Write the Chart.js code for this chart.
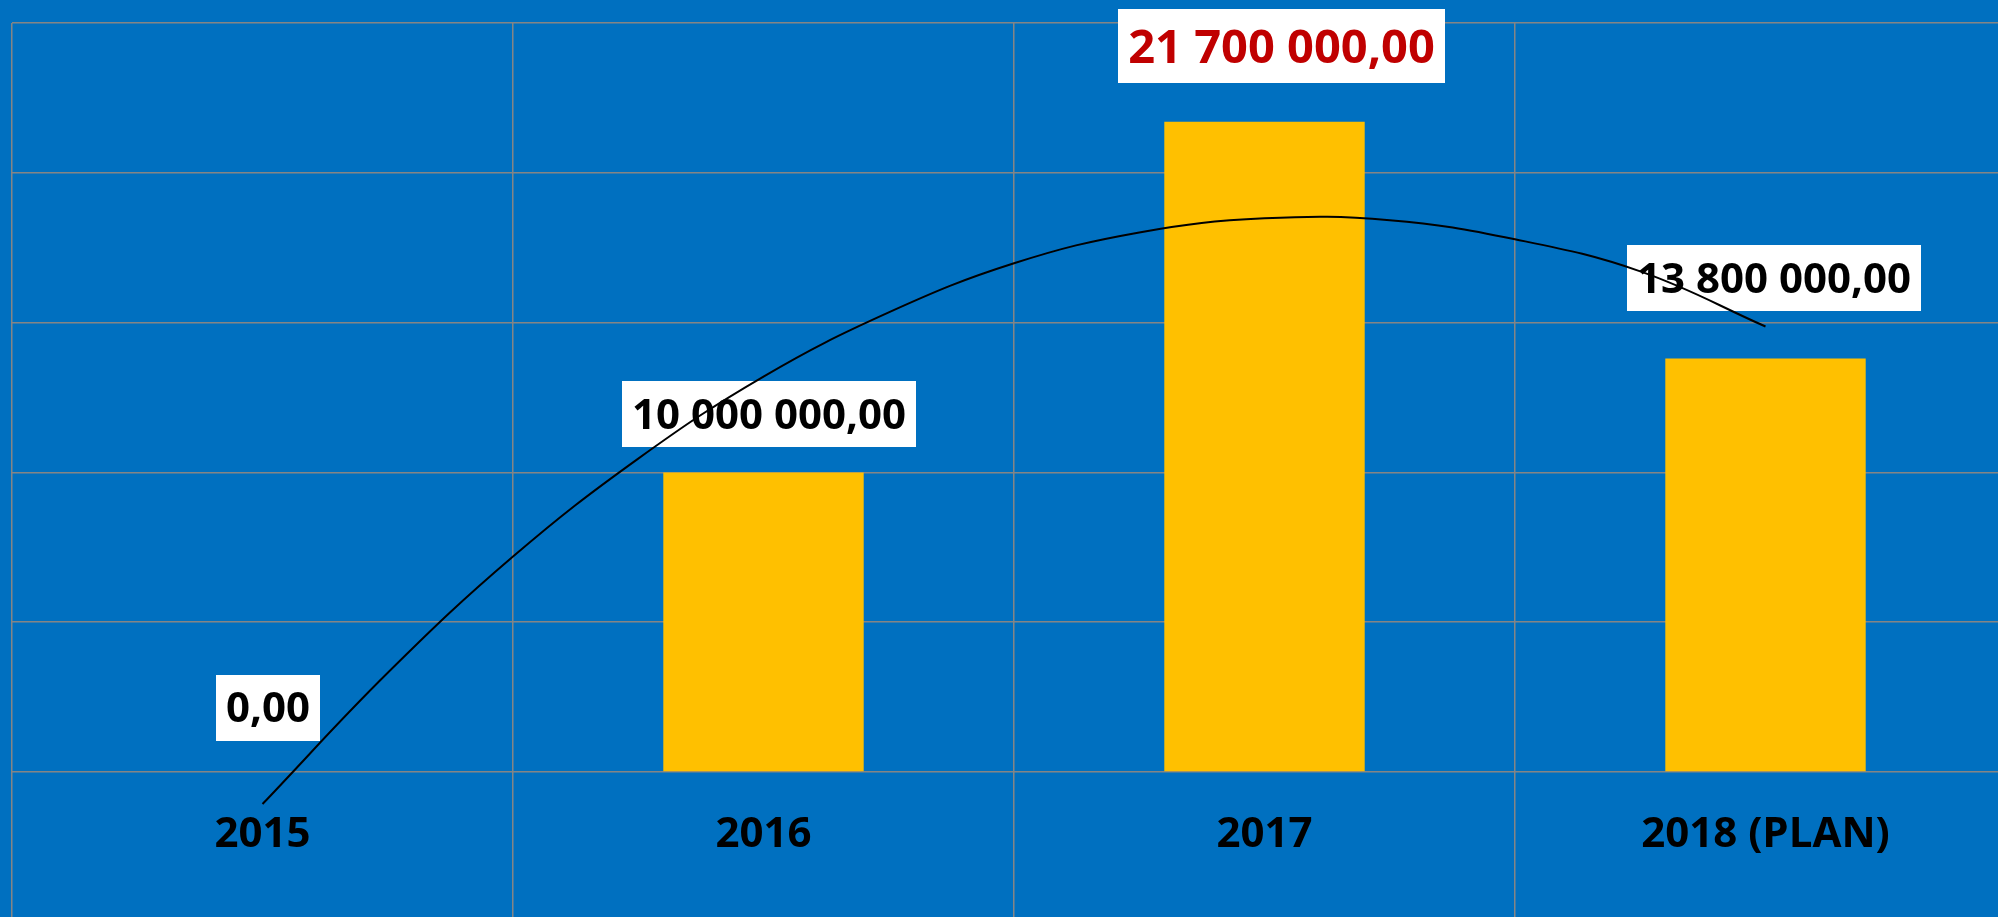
<!DOCTYPE html>
<html>
<head>
<meta charset="utf-8">
<script src="https://cdn.jsdelivr.net/npm/chart.js@4.4.1/dist/chart.umd.min.js"></script>
<style>
  html, body { margin: 0; padding: 0; background: #0070C0; overflow: hidden; }
  #wrap { width: 1998px; height: 917px; overflow: hidden; position: relative; background: #0070C0; }
  canvas { display: block; }
</style>
</head>
<body>
<div id="wrap"><canvas id="c" width="2040" height="917" style="width:2040px;height:917px"></canvas></div>
<script>
// ---- data ----
const categories = ['2015', '2016', '2017', '2018 (PLAN)'];
const barValues = [0, 10000000, 21700000, 13800000];
// polynomial trend line, values at these category positions
const trendX = [1, 1.25, 1.5, 1.75, 2, 2.25, 2.5, 2.75, 3, 3.25, 3.5, 3.75, 4];
const trendValues = [-1070000, 3310000, 7190000, 10460000, 13200000, 15340000, 16980000,
                     18010000, 18480000, 18420000, 17780000, 16710000, 14870000];
const yMin = 0, yMax = 25000000, yStep = 5000000;

// ---- styling ----
const FONT = '"Open Sans", "DejaVu Sans", sans-serif';
const labelColors = ['#000000', '#000000', '#C00000', '#000000'];
const labelSizes = [42, 42, 47, 42];
const labelDx = [5.5, 5.5, 17, 8.5];
const labelDy = [-64.5, -58.5, -76, -80.5];

function fmt(v) {
  const parts = Math.abs(v).toFixed(2).split('.');
  const intPart = parts[0].replace(/\B(?=(\d{3})+(?!\d))/g, ' ');
  return (v < 0 ? '-' : '') + intPart + ',' + parts[1];
}

const valueBoxes = {
  id: 'valueBoxes',
  afterDatasetDraw(chart, args) {
    if (args.index !== 1) return;
    const ctx = chart.ctx;
    args.meta.data.forEach((bar, i) => {
      const size = labelSizes[i];
      const text = fmt(barValues[i]);
      ctx.save();
      ctx.font = 'bold ' + size + 'px ' + FONT;
      const w = ctx.measureText(text).width + 20;
      const h = Math.round(size * 1.58);
      const cx = bar.x + labelDx[i];
      const cy = bar.y + labelDy[i];
      ctx.fillStyle = '#FFFFFF';
      ctx.fillRect(Math.round(cx - w / 2), Math.round(cy - h / 2), Math.round(w), h);
      ctx.fillStyle = labelColors[i];
      ctx.textAlign = 'center';
      ctx.textBaseline = 'alphabetic';
      ctx.fillText(text, cx, cy + size * 0.714 / 2);
      ctx.restore();
    });
  }
};

function draw() {
  const ctx = document.getElementById('c').getContext('2d');
  new Chart(ctx, {
    data: {
      labels: categories,
      datasets: [
        {
          type: 'line',
          label: 'Trend',
          data: trendX.map((x, i) => ({ x: x, y: trendValues[i] })),
          xAxisID: 'xt',
          yAxisID: 'y',
          borderColor: '#000000',
          borderWidth: 2,
          pointRadius: 0,
          tension: 0.4,
          fill: false,
          clip: false,
          order: 0
        },
        {
          type: 'bar',
          label: 'Value',
          data: barValues,
          xAxisID: 'x',
          yAxisID: 'y',
          backgroundColor: '#FFC000',
          borderWidth: 0,
          grouped: false,
          categoryPercentage: 1,
          barPercentage: 0.4,
          order: 1
        }
      ]
    },
    options: {
      responsive: false,
      animation: false,
      events: [],
      layout: { padding: { left: 12, right: 24, top: 23, bottom: 0 } },
      plugins: { legend: { display: false }, tooltip: { enabled: false } },
      scales: {
        x: {
          type: 'category',
          position: 'bottom',
          offset: true,
          grid: { offset: true, color: '#858585', lineWidth: 1.5, drawTicks: true, tickLength: 145, tickColor: '#858585' },
          border: { display: false },
          ticks: { font: { family: FONT, size: 42, weight: 'bold' }, color: '#000000', padding: -107, maxRotation: 0, autoSkip: false },
          afterFit(s) { s.height = 145; }
        },
        xt: { type: 'linear', display: false, min: 0.5, max: 4.5 },
        y: {
          type: 'linear',
          position: 'left',
          min: yMin,
          max: yMax,
          ticks: { display: false, stepSize: yStep },
          grid: { color: '#858585', lineWidth: 1.5, drawTicks: false },
          border: { display: false },
          afterFit(s) { s.width = 0; }
        }
      }
    },
    plugins: [valueBoxes]
  });
}

Promise.all([
  document.fonts.load('bold 42px "Open Sans"'),
  document.fonts.load('bold 47px "Open Sans"')
]).then(draw, draw);
</script>
</body>
</html>
